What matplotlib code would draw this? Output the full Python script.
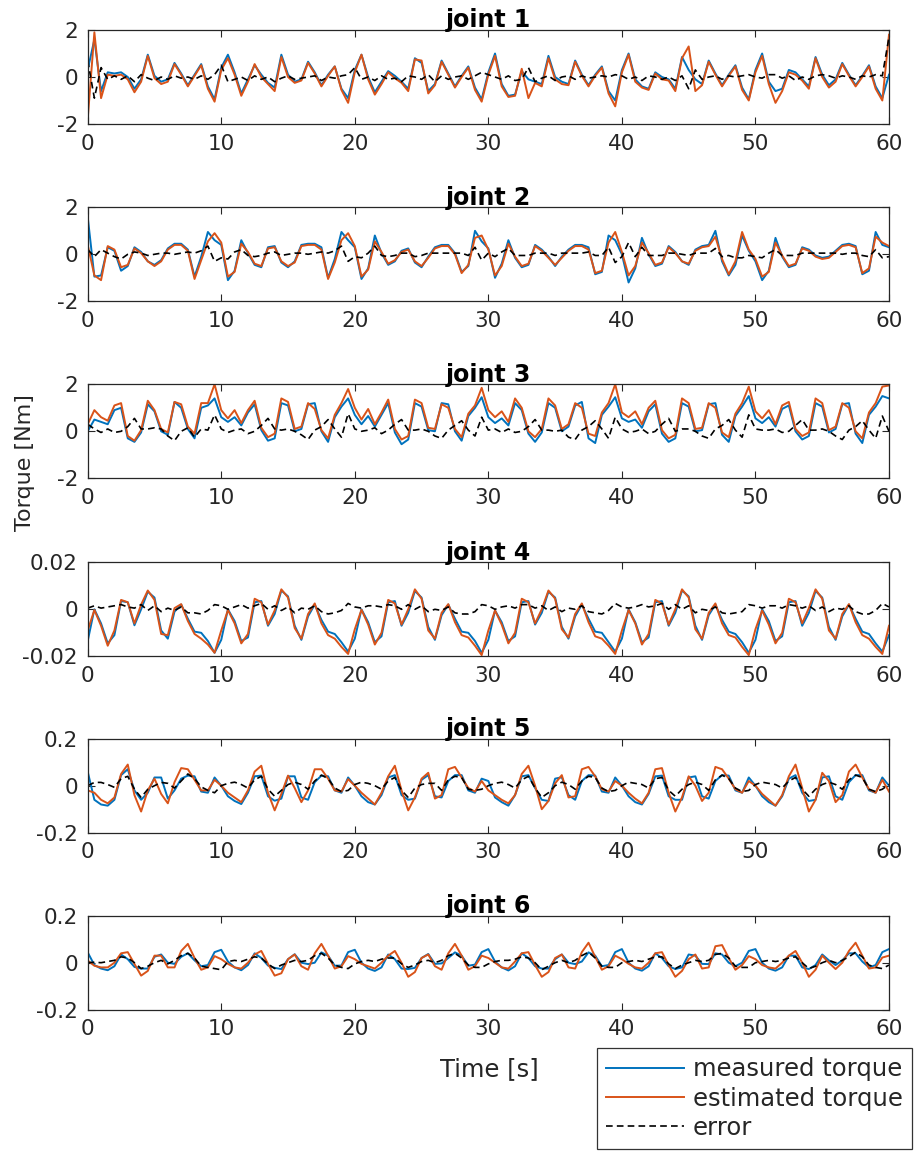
import numpy as np
import matplotlib.pyplot as plt

plt.rcParams['axes.unicode_minus'] = False
plt.rcParams['font.family'] = 'DejaVu Sans'

# time axis, samples every 0.5 s
t = np.arange(121) * 0.5

# ---- joint 1 [Nm] ----
j1_meas = [0.3, 1.6, -0.6, 0.2, 0.15, 0.2, 0.0, -0.5, -0.1, 0.95, 0.05, -0.2, -0.1, 0.6, 0.15, -0.35, 0.1, 0.55, -0.4, -0.95,
           0.4, 0.95, 0.2, -0.7, -0.1, 0.5, 0.1, -0.25, -0.45, 0.95, 0.1, -0.2, -0.1, 0.65, 0.2, -0.35, 0.1, 0.45, -0.5, -0.9,
           0.3, 0.95, 0.0, -0.65, -0.2, 0.25, 0.05, -0.2, -0.5, 0.8, 0.6, -0.6, -0.3, 0.7, 0.15, -0.4, 0.05, 0.45, -0.45, -0.95,
           0.2, 1.0, -0.3, -0.8, -0.75, 0.25, -0.1, -0.2, -0.3, 0.9, 0.0, -0.2, -0.3, 0.7, 0.1, -0.35, 0.1, 0.45, -0.6, -1.0,
           0.3, 1.0, -0.1, -0.4, -0.5, 0.2, 0.0, -0.1, -0.5, 0.85, 0.3, -0.1, -0.3, 0.7, 0.15, -0.35, 0.1, 0.5, -0.45, -0.95,
           0.3, 1.0, -0.2, -0.6, -0.5, 0.3, 0.2, -0.1, -0.4, 0.85, 0.1, -0.35, -0.1, 0.6, 0.1, -0.35, 0.05, 0.5, -0.4, -0.9,
           0.1]
j1_est = [-1.8, 1.9, -0.9, 0.1, 0.05, 0.1, -0.1, -0.65, -0.2, 0.9, -0.05, -0.3, -0.2, 0.55, 0.1, -0.4, 0.05, 0.5, -0.5, -1.05,
          0.3, 0.8, 0.1, -0.8, -0.2, 0.55, 0.0, -0.3, -0.6, 0.85, 0.0, -0.25, -0.15, 0.6, 0.15, -0.4, 0.05, 0.45, -0.55, -1.1,
          0.2, 0.95, -0.1, -0.75, -0.3, 0.2, -0.05, -0.25, -0.6, 0.75, 0.7, -0.7, -0.35, 0.65, 0.1, -0.45, 0.0, 0.4, -0.55, -1.05,
          0.1, 0.9, -0.4, -0.85, -0.8, 0.35, -0.9, -0.25, -0.4, 0.8, -0.1, -0.3, -0.35, 0.65, 0.05, -0.4, 0.05, 0.4, -0.7, -1.25,
          0.2, 0.95, -0.2, -0.45, -0.55, 0.15, -0.1, -0.15, -0.6, 0.8, 1.3, -0.6, -0.35, 0.65, 0.1, -0.4, 0.05, 0.45, -0.55, -1.0,
          0.2, 0.9, -0.3, -1.1, -0.6, 0.2, 0.1, -0.15, -0.5, 0.8, 0.0, -0.45, -0.2, 0.55, 0.05, -0.4, 0.0, 0.45, -0.5, -1.0,
          1.8]
j1_err = [0.7, -0.9, 0.4, -0.1, 0.05, -0.1, 0.05, -0.2, 0.1, -0.05, -0.15, 0.0, -0.1, 0.05, -0.05, 0.0, -0.1, 0.05, -0.1, 0.1,
          0.5, -0.2, -0.1, 0.0, -0.15, 0.05, -0.1, 0.0, -0.2, -0.05, 0.05, -0.1, -0.05, 0.0, 0.05, -0.15, 0.0, -0.05, 0.05, 0.1,
          0.4, -0.1, 0.0, -0.15, 0.05, -0.1, -0.05, -0.2, 0.05, 0.0, -0.1, 0.1, -0.2, 0.05, -0.1, 0.0, 0.05, -0.1, 0.05, 0.2,
          0.1, 0.0, -0.1, 0.05, -0.15, -0.1, 0.4, -0.2, -0.05, 0.05, -0.15, 0.0, 0.05, -0.1, 0.05, -0.05, 0.0, 0.05, 0.0, 0.1,
          0.05, -0.1, 0.0, -0.15, 0.05, 0.0, -0.1, 0.0, -0.15, 0.05, -0.5, 0.3, -0.1, 0.0, 0.05, -0.1, 0.05, 0.0, 0.05, 0.1,
          0.0, -0.05, 0.1, 0.1, -0.05, 0.05, -0.15, 0.0, -0.1, 0.05, 0.1, 0.05, -0.05, 0.05, 0.0, -0.1, 0.05, 0.0, 0.1, 0.05,
          1.7]

# ---- joint 2 [Nm] ----
j2_meas = [1.6, -0.95, -0.9, 0.3, 0.15, -0.7, -0.5, 0.3, 0.1, -0.3, -0.45, -0.25, 0.25, 0.45, 0.45, 0.2, -0.95, -0.1, 0.95, 0.6,
           0.4, -1.1, -0.7, 0.6, 0.05, -0.45, -0.55, 0.3, 0.35, -0.35, -0.55, -0.3, 0.4, 0.45, 0.45, 0.3, -1.0, -0.2, 0.95, 0.6,
           0.3, -1.05, -0.6, 0.8, 0.05, -0.45, -0.3, 0.15, 0.25, -0.35, -0.55, -0.1, 0.3, 0.4, 0.4, 0.05, -0.75, -0.5, 1.0, 0.55,
           0.25, -1.0, -0.4, 0.6, -0.15, -0.55, -0.45, 0.4, 0.2, -0.1, -0.5, -0.1, 0.2, 0.4, 0.4, 0.3, -0.85, -0.75, 0.8, 0.6,
           0.0, -1.2, -0.6, 0.7, 0.0, -0.5, -0.4, 0.35, 0.1, -0.3, -0.45, 0.2, 0.35, 0.4, 1.0, -0.3, -0.9, -0.45, 0.8, 0.15,
           -0.3, -1.1, -0.7, 0.7, -0.1, -0.55, -0.45, 0.3, 0.2, -0.05, -0.15, -0.1, 0.15, 0.4, 0.45, 0.35, -0.85, -0.7, 0.95, 0.4,
           0.3]
j2_est = [0.4, -0.9, -1.1, 0.35, 0.2, -0.55, -0.45, 0.25, 0.05, -0.3, -0.5, -0.3, 0.2, 0.4, 0.4, 0.15, -1.05, -0.25, 0.55, 0.9,
          0.5, -0.95, -0.75, 0.45, 0.1, -0.4, -0.5, 0.25, 0.3, -0.3, -0.5, -0.35, 0.35, 0.4, 0.4, 0.2, -1.05, -0.35, 0.6, 0.9,
          0.35, -0.95, -0.65, 0.55, 0.1, -0.4, -0.25, 0.1, 0.2, -0.3, -0.5, -0.15, 0.25, 0.35, 0.35, 0.0, -0.8, -0.45, 0.7, 0.8,
          0.2, -0.9, -0.5, 0.45, -0.1, -0.5, -0.4, 0.35, 0.15, -0.15, -0.45, -0.15, 0.15, 0.35, 0.35, 0.2, -0.8, -0.7, 0.5, 0.95,
          0.1, -0.9, -0.5, 0.5, 0.05, -0.45, -0.35, 0.3, 0.05, -0.3, -0.4, 0.15, 0.3, 0.35, 0.75, -0.2, -0.85, -0.3, 0.95, 0.2,
          -0.2, -0.95, -0.75, 0.5, -0.05, -0.5, -0.4, 0.25, 0.15, -0.1, -0.2, -0.15, 0.1, 0.35, 0.4, 0.3, -0.8, -0.6, 0.75, 0.5,
          0.35]
j2_err = [0.2, -0.1, 0.2, 0.05, -0.1, -0.2, 0.0, 0.1, 0.05, -0.05, 0.0, 0.05, 0.05, 0.0, 0.05, 0.1, 0.05, 0.15, 0.35, -0.3,
          -0.15, -0.2, 0.1, 0.2, -0.05, -0.1, -0.05, 0.05, 0.1, -0.05, 0.0, 0.05, 0.05, 0.0, 0.05, 0.1, 0.05, 0.15, 0.35, -0.3,
          -0.1, -0.15, 0.05, 0.35, -0.05, -0.1, -0.05, 0.05, 0.05, -0.1, -0.05, 0.05, 0.05, 0.05, 0.05, 0.05, 0.05, -0.05, 0.3, -0.25,
          0.05, -0.1, 0.1, 0.25, -0.05, -0.05, -0.05, 0.05, 0.05, 0.05, -0.05, 0.05, 0.05, 0.05, 0.05, 0.1, -0.05, -0.05, 0.3, -0.35,
          -0.1, 0.5, -0.1, 0.3, -0.05, -0.05, -0.05, 0.05, 0.05, 0.0, -0.05, 0.05, 0.05, 0.05, 0.25, -0.1, -0.05, -0.15, -0.15, -0.05,
          -0.1, -0.15, 0.05, 0.2, -0.05, -0.05, -0.05, 0.05, 0.05, 0.05, 0.05, 0.05, 0.05, 0.0, 0.05, 0.05, -0.05, -0.1, 0.2, -0.15,
          -0.1]

# ---- joint 3 [Nm] ----
j3_meas = [0.0, 0.5, 0.4, 0.3, 0.9, 1.0, -0.3, -0.45, -0.05, 1.15, 0.85, 0.0, -0.15, 1.25, 1.0, 0.1, -0.3, 1.0, 1.1, 1.4,
           0.6, 0.4, 0.6, 0.25, 0.8, 1.15, 0.05, -0.4, -0.3, 1.2, 1.1, 0.0, 0.1, 1.15, 1.2, 0.0, -0.45, 0.6, 1.05, 1.4,
           0.7, 0.3, 0.65, 0.2, 0.7, 1.2, -0.05, -0.55, -0.35, 1.2, 1.05, 0.05, 0.0, 1.2, 1.15, 0.0, -0.4, 0.65, 1.0, 1.45,
           0.6, 0.35, 0.55, 0.25, 1.2, 0.9, -0.1, -0.45, -0.05, 1.2, 1.0, 0.0, 0.2, 1.1, 1.25, -0.3, -0.5, 0.7, 1.05, 1.45,
           0.55, 0.4, 0.5, 0.15, 0.85, 1.15, -0.1, -0.45, -0.3, 1.2, 1.05, 0.0, 0.05, 1.15, 1.2, -0.15, -0.45, 0.65, 1.05, 1.5,
           0.55, 0.35, 0.6, 0.2, 0.95, 1.1, 0.0, -0.35, -0.2, 1.2, 1.05, -0.05, 0.1, 1.15, 1.2, -0.1, -0.5, 0.7, 1.05, 1.5,
           1.4]
j3_est = [0.3, 0.9, 0.6, 0.45, 1.1, 1.2, -0.2, -0.4, 0.05, 1.3, 0.9, 0.1, -0.05, 1.25, 1.15, 0.2, -0.1, 1.2, 1.2, 2.0,
          0.9, 0.55, 0.9, 0.35, 0.9, 1.3, 0.15, -0.25, -0.1, 1.4, 1.25, 0.1, 0.2, 1.2, 0.95, 0.05, -0.3, 0.7, 1.2, 1.8,
          1.0, 0.5, 0.95, 0.3, 0.8, 1.35, 0.1, -0.35, -0.2, 1.35, 1.2, 0.15, 0.1, 1.15, 1.0, 0.1, -0.25, 0.75, 1.1, 1.85,
          0.9, 0.6, 0.85, 0.4, 1.4, 1.0, 0.0, -0.25, 0.1, 1.4, 1.1, 0.1, 0.3, 1.2, 1.0, -0.1, -0.2, 0.8, 1.2, 2.0,
          0.8, 0.6, 0.85, 0.3, 1.0, 1.3, 0.05, -0.3, -0.15, 1.4, 1.2, 0.1, 0.15, 1.2, 1.0, -0.05, -0.25, 0.75, 1.2, 1.9,
          0.85, 0.55, 0.9, 0.3, 1.1, 1.25, 0.1, -0.2, -0.05, 1.4, 1.2, 0.05, 0.2, 1.2, 1.0, 0.0, -0.3, 0.8, 1.2, 1.9,
          1.95]
j3_err = [0.3, 0.1, -0.05, 0.1, -0.05, 0.0, 0.2, 0.55, 0.1, 0.1, 0.15, 0.1, -0.2, -0.4, 0.0, 0.15, -0.25, 0.1, 0.05, 0.7,
          0.1, -0.05, 0.05, 0.1, -0.1, 0.0, 0.25, 0.55, 0.1, 0.05, 0.1, 0.0, -0.15, -0.35, 0.05, 0.2, 0.5, 0.1, -0.25, 0.75,
          0.1, 0.0, 0.05, 0.15, -0.1, 0.05, 0.3, 0.5, 0.05, 0.05, 0.1, 0.0, -0.2, -0.3, 0.05, 0.25, 0.45, 0.05, -0.2, 0.6,
          0.05, 0.1, -0.05, 0.1, -0.05, 0.0, 0.2, 0.5, 0.05, 0.05, 0.0, 0.05, -0.25, -0.35, 0.05, 0.2, 0.45, 0.1, -0.3, 0.6,
          0.1, -0.05, 0.0, 0.1, -0.1, 0.0, 0.3, 0.55, 0.0, 0.1, 0.1, 0.0, -0.2, -0.3, 0.1, 0.25, 0.5, 0.05, -0.25, 0.7,
          0.1, 0.05, 0.05, 0.1, -0.05, 0.0, 0.25, 0.5, 0.05, 0.05, 0.1, 0.0, -0.2, -0.35, 0.05, 0.2, 0.45, 0.05, -0.3, 0.65,
          0.0]

# ---- joint 4 [Nm] ----
j4_meas = [-0.0135, 0.0, -0.006, -0.0145, -0.011, 0.0035, 0.003, -0.0068, 0.0, 0.0075, 0.005, -0.009, -0.0125, -0.001, 0.002, -0.004, -0.0095, -0.01, -0.0135, -0.0185,
           -0.013, 0.0, -0.005, -0.0135, -0.012, 0.003, 0.0035, -0.007, -0.002, 0.008, 0.0055, -0.007, -0.013, -0.003, 0.002, -0.0045, -0.0095, -0.0105, -0.014, -0.018,
           -0.0125, 0.0, -0.0055, -0.014, -0.0115, 0.003, 0.0035, -0.007, -0.0015, 0.0078, 0.005, -0.0075, -0.013, -0.0025, 0.002, -0.004, -0.0095, -0.01, -0.0135, -0.0185,
           -0.013, -0.0005, -0.0055, -0.0135, -0.0115, 0.003, 0.0035, -0.0065, -0.0015, 0.0075, 0.005, -0.0075, -0.0125, -0.003, 0.002, -0.004, -0.0095, -0.01, -0.014, -0.018,
           -0.0125, 0.0, -0.0055, -0.014, -0.012, 0.003, 0.0035, -0.007, -0.0015, 0.008, 0.0055, -0.007, -0.013, -0.0025, 0.002, -0.0045, -0.0095, -0.0105, -0.014, -0.0185,
           -0.013, 0.0, -0.005, -0.0135, -0.0115, 0.003, 0.0035, -0.007, -0.0015, 0.0078, 0.005, -0.0075, -0.013, -0.003, 0.002, -0.004, -0.0095, -0.0105, -0.0145, -0.018,
           -0.011]
j4_est = [-0.009, -0.0003, -0.007, -0.0155, -0.009, 0.004, 0.003, -0.006, 0.002, 0.008, 0.004, -0.0105, -0.011, 0.0005, 0.0022, -0.005, -0.0105, -0.0125, -0.015, -0.0185,
          -0.009, -0.0003, -0.006, -0.0145, -0.0105, 0.0045, 0.003, -0.0065, -0.0005, 0.0085, 0.005, -0.008, -0.0125, -0.002, 0.0025, -0.006, -0.011, -0.0125, -0.016, -0.019,
          -0.0085, -0.0002, -0.0065, -0.015, -0.01, 0.004, 0.0025, -0.0065, 0.0, 0.0085, 0.0045, -0.009, -0.0125, -0.0015, 0.0022, -0.0055, -0.011, -0.012, -0.0155, -0.0195,
          -0.009, -0.0005, -0.0065, -0.0145, -0.01, 0.0045, 0.003, -0.006, 0.0, 0.008, 0.0045, -0.0085, -0.012, -0.002, 0.0025, -0.0055, -0.0115, -0.0125, -0.0155, -0.019,
          -0.009, -0.0003, -0.006, -0.015, -0.0105, 0.004, 0.0025, -0.0065, 0.0, 0.0085, 0.005, -0.0085, -0.0125, -0.0015, 0.0025, -0.006, -0.011, -0.012, -0.016, -0.0195,
          -0.0085, -0.0005, -0.0065, -0.0145, -0.01, 0.0045, 0.003, -0.006, 0.0005, 0.0085, 0.0045, -0.009, -0.0125, -0.002, 0.0022, -0.0055, -0.011, -0.0125, -0.016, -0.019,
          -0.007]
j4_err = [0.0005, 0.0015, 0.0005, 0.001, 0.0015, 0.002, 0.001, 0.0005, 0.002, -0.0005, 0.0015, -0.001, 0.0005, -0.0005, 0.001, -0.0015, -0.0015, -0.002, -0.0005, 0.002,
          0.0015, 0.0, 0.001, 0.002, 0.0005, 0.0015, 0.0025, 0.0, 0.0015, -0.0005, 0.001, -0.0015, 0.0005, 0.0, 0.0015, -0.001, -0.002, -0.0015, -0.0005, 0.0025,
          0.001, 0.0005, 0.0015, 0.0015, 0.001, 0.002, 0.0015, 0.0, 0.002, 0.0, 0.0015, -0.001, 0.0, -0.0005, 0.001, -0.0015, -0.002, -0.002, -0.001, 0.002,
          0.0015, 0.0, 0.001, 0.0015, 0.0005, 0.002, 0.002, 0.0005, 0.0015, -0.0005, 0.001, -0.001, 0.0005, 0.0, 0.0015, -0.001, -0.0015, -0.002, -0.0005, 0.0025,
          0.001, 0.0005, 0.001, 0.002, 0.001, 0.0015, 0.0025, 0.0, 0.002, 0.0, 0.0015, -0.0015, 0.0, -0.0005, 0.001, -0.0015, -0.002, -0.0015, -0.001, 0.002,
          0.0015, 0.0005, 0.0015, 0.0015, 0.0005, 0.002, 0.0015, 0.0005, 0.0015, -0.0005, 0.001, -0.001, 0.0005, 0.0, 0.0015, -0.001, -0.002, -0.002, -0.0005, 0.0025,
          0.001]

# ---- joint 5 [Nm] ----
j5_meas = [0.06, -0.06, -0.08, -0.085, -0.06, 0.045, 0.07, -0.02, -0.06, -0.03, 0.035, 0.035, -0.055, -0.02, 0.03, 0.043, 0.04, -0.025, -0.03, 0.035,
           0.0, -0.045, -0.065, -0.078, -0.03, 0.04, 0.043, -0.045, -0.064, -0.055, 0.04, 0.04, -0.05, -0.06, 0.015, 0.043, 0.04, -0.02, -0.03, 0.035,
           0.0, -0.045, -0.07, -0.08, -0.04, 0.035, 0.045, -0.04, -0.06, -0.055, 0.025, 0.045, -0.045, -0.05, 0.02, 0.045, 0.045, -0.02, -0.03, 0.03,
           0.02, -0.05, -0.07, -0.085, -0.04, 0.04, 0.045, -0.01, -0.06, -0.065, 0.03, 0.036, -0.04, -0.06, 0.02, 0.045, 0.043, -0.025, -0.03, 0.035,
           0.0, -0.045, -0.07, -0.08, -0.035, 0.04, 0.043, -0.045, -0.06, -0.06, 0.035, 0.04, -0.045, -0.055, 0.02, 0.045, 0.043, -0.02, -0.03, 0.035,
           0.0, -0.045, -0.07, -0.085, -0.045, 0.03, 0.045, -0.03, -0.065, -0.06, 0.035, 0.04, -0.045, -0.06, 0.015, 0.045, 0.045, -0.02, -0.03, 0.035,
           0.0]
j5_est = [-0.02, -0.03, -0.06, -0.075, -0.05, 0.05, 0.09, -0.04, -0.11, -0.02, 0.03, -0.035, -0.075, 0.015, 0.075, 0.07, 0.025, -0.02, -0.02, 0.025,
          0.0, -0.03, -0.05, -0.07, -0.02, 0.06, 0.085, -0.03, -0.105, -0.035, 0.043, -0.01, -0.07, -0.02, 0.07, 0.07, 0.03, -0.02, -0.025, 0.028,
          0.0, -0.03, -0.055, -0.08, -0.03, 0.04, 0.085, -0.02, -0.105, -0.05, 0.03, 0.055, -0.055, -0.04, 0.07, 0.08, 0.035, -0.01, -0.025, 0.02,
          -0.02, -0.04, -0.06, -0.075, -0.04, 0.05, 0.085, 0.0, -0.1, -0.065, 0.01, 0.045, -0.05, -0.045, 0.07, 0.08, 0.04, -0.015, -0.025, 0.02,
          0.0, -0.03, -0.055, -0.075, -0.03, 0.07, 0.075, -0.03, -0.11, -0.05, 0.04, 0.0, -0.065, -0.03, 0.08, 0.07, 0.03, -0.015, -0.03, 0.02,
          0.0, -0.035, -0.06, -0.085, -0.04, 0.04, 0.09, -0.01, -0.11, -0.06, 0.055, 0.02, -0.07, -0.04, 0.06, 0.09, 0.035, -0.015, -0.03, 0.025,
          -0.025]
j5_err = [0.0, 0.014, 0.014, 0.005, -0.007, 0.03, 0.04, -0.015, -0.05, -0.015, 0.0, 0.014, 0.01, -0.01, 0.02, 0.05, 0.03, -0.005, -0.02, -0.03,
          0.0, 0.01, 0.015, 0.005, -0.01, 0.025, 0.04, -0.015, -0.045, -0.02, 0.005, 0.015, 0.005, -0.015, 0.02, 0.045, 0.03, -0.01, -0.025, -0.02,
          0.005, 0.015, 0.01, 0.0, -0.015, 0.02, 0.035, -0.02, -0.05, -0.01, 0.005, 0.01, 0.01, -0.02, 0.025, 0.04, 0.035, -0.015, -0.02, -0.015,
          0.0, 0.01, 0.015, 0.005, -0.01, 0.025, 0.04, -0.01, -0.05, -0.03, 0.0, 0.015, 0.005, -0.015, 0.02, 0.04, 0.035, -0.01, -0.025, -0.02,
          0.0, 0.015, 0.01, 0.005, -0.01, 0.03, 0.035, -0.02, -0.045, -0.015, 0.005, 0.015, 0.005, -0.02, 0.025, 0.045, 0.03, -0.01, -0.025, -0.02,
          0.005, 0.015, 0.01, 0.005, -0.01, 0.02, 0.035, -0.015, -0.045, -0.015, 0.005, 0.015, 0.005, -0.015, 0.025, 0.045, 0.035, -0.015, -0.025, -0.015,
          0.005]

# ---- joint 6 [Nm] ----
j6_meas = [0.044, -0.01, -0.025, -0.032, -0.015, 0.035, 0.015, -0.018, -0.025, -0.025, 0.025, 0.035, 0.0, -0.005, 0.025, 0.04, 0.01, -0.015, -0.01, 0.045,
           0.055, 0.005, -0.02, -0.032, -0.01, 0.04, 0.02, -0.012, -0.022, -0.027, 0.015, 0.036, 0.0, -0.006, 0.0, 0.044, 0.03, -0.013, -0.012, 0.045,
           0.055, 0.0, -0.025, -0.035, -0.02, 0.035, 0.015, -0.025, -0.027, -0.022, 0.02, 0.037, -0.005, -0.003, 0.02, 0.044, 0.03, -0.013, -0.008, 0.045,
           0.058, 0.005, -0.02, -0.033, -0.015, 0.04, 0.02, -0.015, -0.025, -0.025, 0.015, 0.035, 0.0, -0.006, 0.005, 0.044, 0.03, -0.015, -0.01, 0.045,
           0.058, 0.0, -0.025, -0.034, -0.015, 0.04, 0.02, -0.015, -0.027, -0.02, 0.035, 0.03, -0.005, -0.006, 0.04, 0.035, 0.0, -0.015, 0.0, 0.05,
           0.058, 0.0, -0.025, -0.034, -0.02, 0.03, 0.03, -0.02, -0.027, -0.01, 0.035, 0.01, -0.01, 0.01, 0.04, 0.04, 0.005, -0.02, -0.01, 0.045,
           0.058]
j6_est = [0.009, -0.013, -0.02, -0.02, 0.0, 0.04, 0.045, -0.005, -0.055, -0.035, 0.03, 0.03, -0.02, -0.02, 0.05, 0.08, 0.02, -0.03, -0.02, 0.028,
          0.015, -0.005, -0.02, -0.025, 0.0, 0.035, 0.05, -0.005, -0.055, -0.045, 0.015, 0.035, -0.015, -0.03, 0.04, 0.08, 0.03, -0.025, -0.015, 0.028,
          0.015, -0.005, -0.015, -0.025, 0.0, 0.03, 0.05, 0.0, -0.06, -0.04, 0.02, 0.035, -0.015, -0.03, 0.04, 0.08, 0.03, -0.03, -0.015, 0.03,
          0.02, 0.0, -0.02, -0.025, 0.005, 0.04, 0.045, -0.01, -0.06, -0.04, 0.02, 0.035, -0.02, -0.025, 0.045, 0.085, 0.025, -0.03, -0.015, 0.03,
          0.015, -0.005, -0.02, -0.025, 0.0, 0.04, 0.045, -0.01, -0.06, -0.035, 0.015, 0.035, -0.025, -0.02, 0.07, 0.075, 0.02, -0.03, -0.01, 0.028,
          0.015, -0.01, -0.02, -0.025, 0.0, 0.03, 0.05, 0.0, -0.06, -0.03, 0.03, 0.0, -0.027, 0.0, 0.05, 0.085, 0.03, -0.025, -0.02, 0.022,
          0.03]
j6_err = [0.0, 0.002, 0.0, 0.005, 0.01, 0.025, 0.02, 0.0, -0.025, -0.015, 0.0, 0.01, -0.005, 0.01, 0.03, 0.04, 0.02, -0.015, -0.02, -0.025,
          -0.03, 0.005, 0.01, 0.005, 0.015, 0.025, 0.02, -0.005, -0.025, -0.01, 0.0, 0.01, 0.005, 0.01, 0.03, 0.04, 0.02, -0.01, -0.02, -0.025,
          -0.005, 0.005, 0.01, 0.005, 0.015, 0.02, 0.02, -0.005, -0.02, -0.01, 0.005, 0.01, 0.0, 0.01, 0.03, 0.04, 0.02, -0.01, -0.02, -0.02,
          -0.005, 0.005, 0.01, 0.01, 0.015, 0.025, 0.02, 0.0, -0.03, -0.015, 0.0, 0.01, 0.0, 0.01, 0.03, 0.045, 0.02, -0.015, -0.02, -0.02,
          0.0, 0.005, 0.01, 0.005, 0.015, 0.025, 0.025, -0.005, -0.025, -0.01, 0.0, 0.01, 0.005, 0.01, 0.035, 0.04, 0.02, -0.015, -0.02, -0.02,
          0.0, 0.005, 0.01, 0.005, 0.01, 0.02, 0.025, 0.0, -0.025, -0.015, 0.0, 0.01, 0.0, 0.01, 0.025, 0.045, 0.025, -0.01, -0.02, -0.025,
          -0.01]

measured = [j1_meas, j2_meas, j3_meas, j4_meas, j5_meas, j6_meas]
estimated = [j1_est, j2_est, j3_est, j4_est, j5_est, j6_est]
errors = [j1_err, j2_err, j3_err, j4_err, j5_err, j6_err]
titles = ['joint 1', 'joint 2', 'joint 3', 'joint 4', 'joint 5', 'joint 6']
ylims = [2, 2, 2, 0.02, 0.2, 0.2]
yticklabels = [['-2', '0', '2'], ['-2', '0', '2'], ['-2', '0', '2'],
               ['-0.02', '0', '0.02'], ['-0.2', '0', '0.2'], ['-0.2', '0', '0.2']]

W, H = 917, 1153
fig = plt.figure(figsize=(W / 100, H / 100), dpi=100)
tops = [30, 207.3, 384.3, 562.3, 738.7, 915.7]
ax_h = 94
gray = '#262626'

for i in range(6):
    ax = fig.add_axes([87.7 / W, 1 - (tops[i] + ax_h) / H, 801.3 / W, ax_h / H])
    l1, = ax.plot(t, measured[i], color='#0072BD', lw=1.4)
    l2, = ax.plot(t, estimated[i], color='#D95319', lw=1.4)
    l3, = ax.plot(t, errors[i], color='black', lw=1.2, ls='--', dashes=(4, 2.5))
    ax.set_xlim(0, 60)
    ax.set_ylim(-ylims[i], ylims[i])
    ax.set_xticks([0, 10, 20, 30, 40, 50, 60])
    ax.set_yticks([-ylims[i], 0, ylims[i]])
    ax.set_yticklabels(yticklabels[i])
    ax.tick_params(direction='in', top=True, right=True, length=5, width=0.8,
                   labelsize=15.5, colors=gray, pad=7)
    for s in ax.spines.values():
        s.set_color(gray)
        s.set_linewidth(0.9)
    ax.set_title(titles[i], fontweight='bold', fontsize=17, pad=2)

fig.text(489 / W, 1 - 1069 / H, 'Time [s]', ha='center', va='center', fontsize=17.5, color=gray)
fig.text(25 / W, 1 - 463 / H, 'Torque [Nm]', ha='center', va='center', fontsize=16,
         color=gray, rotation=90)

leg = fig.legend([l1, l2, l3], ['measured torque', 'estimated torque', 'error'],
                 loc='upper left', bbox_to_anchor=(597 / W, 1 - 1048 / H),
                 fontsize=17.5, frameon=True, fancybox=False, handlelength=3.2,
                 borderpad=0.38, labelspacing=0.22, handletextpad=0.35, borderaxespad=0)
leg.get_frame().set_edgecolor('black')
leg.get_frame().set_linewidth(0.9)
for txt in leg.get_texts():
    txt.set_color(gray)

fig.savefig('out.png', dpi=100)
